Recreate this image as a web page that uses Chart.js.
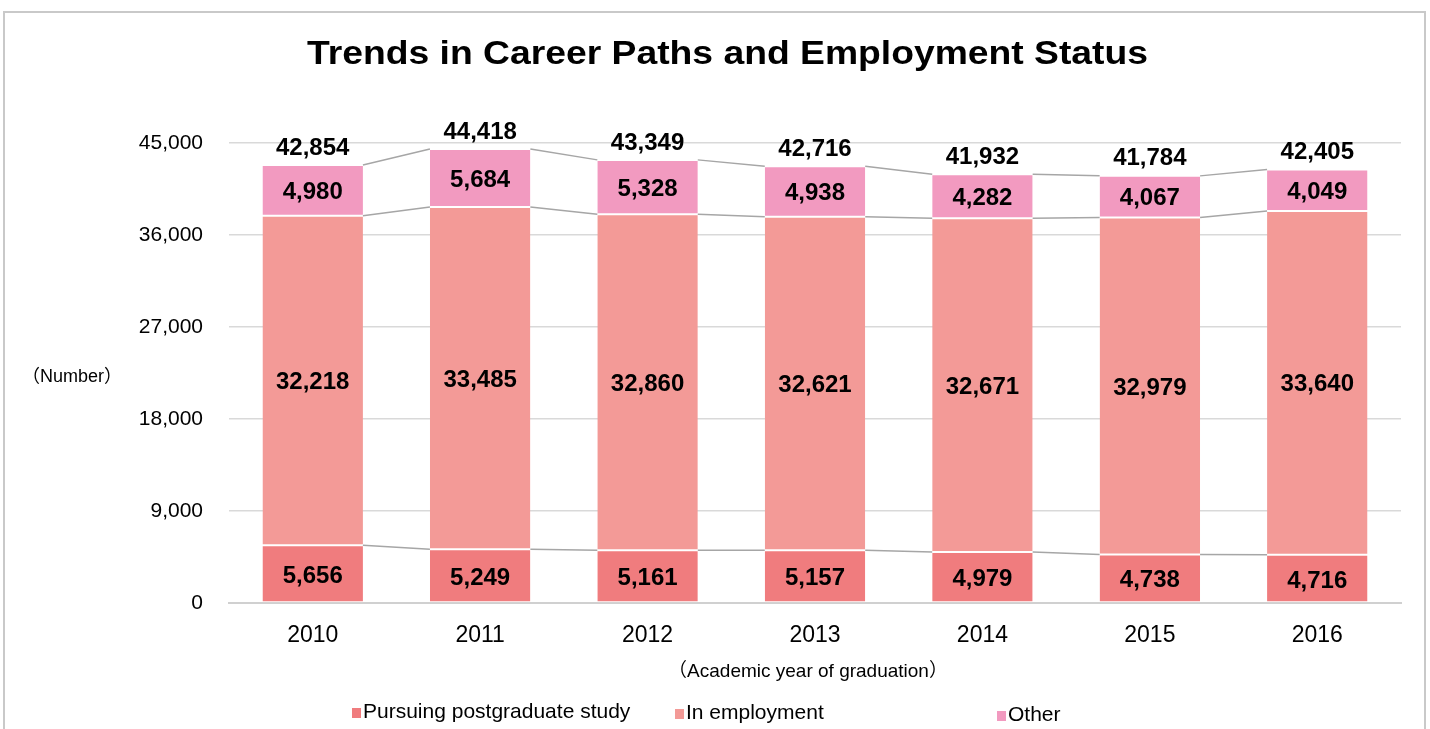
<!DOCTYPE html>
<html>
<head>
<meta charset="utf-8">
<script src="https://cdn.jsdelivr.net/npm/chart.js@4"></script>
<style>
html,body{margin:0;padding:0;background:#fff;}
#wrap{width:1430px;height:729px;position:relative;}
</style>
</head>
<body>
<div id="wrap"><canvas id="c" width="1430" height="729"></canvas></div>
<script>
const years = ['2010','2011','2012','2013','2014','2015','2016'];
const pursuing = [5656,5249,5161,5157,4979,4738,4716];
const employment = [32218,33485,32860,32621,32671,32979,33640];
const other = [4980,5684,5328,4938,4282,4067,4049];
const seriesNames = ['Pursuing postgraduate study','In employment','Other'];
const seriesColors = ['#F07C7E','#F39A97','#F29AC0'];
const yTicks = [0,9000,18000,27000,36000,45000];

const FONT = '"Liberation Sans", Arial, "Noto Sans CJK JP", sans-serif';
const fmt = v => v.toLocaleString('en-US');

const decorPlugin = {
  id: 'decor',
  beforeDraw(chart){
    const ctx = chart.ctx;
    ctx.save();
    ctx.fillStyle = '#fff';
    ctx.fillRect(0,0,chart.width,chart.height);
    ctx.strokeStyle = '#c9c9c9';
    ctx.lineWidth = 2;
    ctx.strokeRect(4, 12, 1421, 740);
    ctx.restore();
  },
  afterDatasetsDraw(chart){
    const ctx = chart.ctx;
    const y = chart.scales.y;
    const metas = [0,1,2].map(i => chart.getDatasetMeta(i));
    const cums = [
      pursuing,
      pursuing.map((v,i)=>v+employment[i]),
      pursuing.map((v,i)=>v+employment[i]+other[i])
    ];
    ctx.save();
    ctx.strokeStyle = '#a6a6a6';
    ctx.lineWidth = 1.5;
    cums.forEach((arr, s) => {
      const meta = metas[s];
      for (let i=0;i<arr.length-1;i++){
        const a = meta.data[i], b = meta.data[i+1];
        ctx.beginPath();
        ctx.moveTo(a.x + a.width/2, y.getPixelForValue(arr[i]));
        ctx.lineTo(b.x - b.width/2, y.getPixelForValue(arr[i+1]));
        ctx.stroke();
      }
    });
    // segment labels
    ctx.fillStyle = '#000';
    ctx.font = 'bold 24px ' + FONT;
    ctx.textAlign = 'center';
    ctx.textBaseline = 'middle';
    const data = [pursuing, employment, other];
    metas.forEach((meta, s) => {
      meta.data.forEach((bar, i) => {
        const top = y.getPixelForValue(cums[s][i]);
        const bot = y.getPixelForValue(cums[s][i] - data[s][i]);
        ctx.fillText(fmt(data[s][i]), bar.x, (top+bot)/2 + 2);
      });
    });
    // totals
    cums[2].forEach((t, i) => {
      const bar = metas[2].data[i];
      ctx.fillText(fmt(t), bar.x, y.getPixelForValue(t) - 17);
    });
    // title (slightly wide rendering as in the reference)
    const title = 'Trends in Career Paths and Employment Status';
    ctx.font = 'bold 33px ' + FONT;
    ctx.textBaseline = 'alphabetic';
    const tw = ctx.measureText(title).width;
    ctx.save();
    ctx.translate(727.5, 64);
    ctx.scale(841 / tw, 1);
    ctx.fillText(title, 0, 0);
    ctx.restore();
    ctx.textBaseline = 'middle';
    // axis titles
    ctx.font = '18px ' + FONT;
    ctx.fillText('（Number）', 72, 377);
    ctx.font = '19px ' + FONT;
    ctx.fillText('（Academic year of graduation）', 808, 672);
    // legend
    ctx.font = '21px ' + FONT;
    ctx.textAlign = 'left';
    const lx = [352, 675, 997];
    const ly = [712, 713, 715];
    seriesNames.forEach((n, k) => {
      ctx.fillStyle = seriesColors[k];
      ctx.fillRect(lx[k], ly[k]-4, 9, 10);
      ctx.fillStyle = '#000';
      ctx.fillText(n, lx[k] + 11, ly[k]);
    });
    ctx.restore();
  }
};

new Chart(document.getElementById('c'), {
  type: 'bar',
  data: {
    labels: years,
    datasets: [
      {label: seriesNames[0], data: pursuing, backgroundColor: seriesColors[0]},
      {label: seriesNames[1], data: employment, backgroundColor: seriesColors[1]},
      {label: seriesNames[2], data: other, backgroundColor: seriesColors[2]}
    ].map(d => Object.assign(d, {
      borderColor: '#ffffff',
      borderWidth: {top: 1, bottom: 1, left: 0, right: 0},
      borderSkipped: false,
      categoryPercentage: 0.6,
      barPercentage: 1.0
    }))
  },
  options: {
    responsive: false,
    animation: false,
    devicePixelRatio: 1,
    layout: {padding: {top: 143, right: 29, bottom: 0, left: 0}},
    plugins: {legend: {display: false}, title: {display: false}, tooltip: {enabled: false}},
    scales: {
      x: {
        stacked: true,
        grid: {display: false, drawTicks: false},
        border: {display: true, color: '#d0d0d0', width: 2},
        ticks: {color: '#000', font: {family: FONT, size: 23}, padding: 19},
        afterFit(s){ s.height = 126; }
      },
      y: {
        stacked: true,
        min: 0, max: 45000,
        afterBuildTicks(s){ s.ticks = yTicks.map(v => ({value: v})); },
        grid: {color: '#d9d9d9', lineWidth: 1.5, drawTicks: false},
        border: {display: false},
        ticks: {color: '#000', font: {family: FONT, size: 21}, padding: 26,
          callback: v => fmt(v)},
        afterFit(s){ s.width = 229; }
      }
    }
  },
  plugins: [decorPlugin]
});
</script>
</body>
</html>
